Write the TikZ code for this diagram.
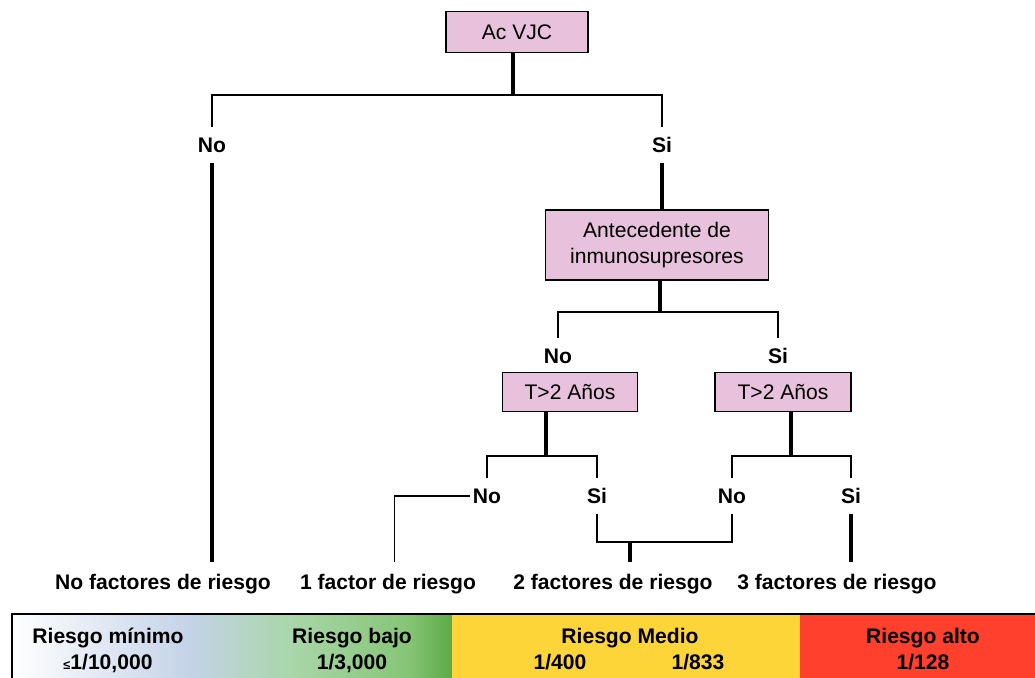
\documentclass[tikz,border=0pt]{standalone}
\usepackage{fontspec}
\setmainfont{Liberation Sans}
\usepackage{tikz}
\usetikzlibrary{positioning}

\definecolor{boxpink}{RGB}{232,193,221}
\definecolor{riskblue}{RGB}{197,211,232}
\definecolor{riskpale}{RGB}{168,214,168}
\definecolor{risklight}{RGB}{134,197,118}
\definecolor{riskgreen}{RGB}{91,170,69}
\definecolor{riskyellow}{RGB}{253,213,56}
\definecolor{riskred}{RGB}{255,64,45}

\pgfdeclarehorizontalshading{lowrisk}{100bp}{color(0bp)=(white); color(25bp)=(white); color(45bp)=(riskblue); color(57bp)=(riskpale); color(70bp)=(risklight); color(75bp)=(riskgreen); color(100bp)=(riskgreen)}

\begin{document}
\begin{tikzpicture}[x=0.025cm,y=-0.025cm]
     % Define styles
     \tikzstyle{qbox} = [draw, line width=1.1pt, fill=boxpink, align=center, inner sep=2pt, font=\fontsize{15}{18}\selectfont]
     \tikzstyle{answer} = [font=\bfseries\fontsize{15}{18}\selectfont, text height=11pt, text depth=0pt, inner xsep=2pt, inner ysep=7pt]
     \tikzstyle{outcome} = [font=\bfseries\fontsize{15}{18}\selectfont, anchor=base, text height=11pt, inner ysep=8pt]
     \tikzstyle{risk} = [font=\bfseries\fontsize{15}{18}\selectfont, anchor=base, inner sep=0pt]
     \tikzstyle{branch} = [line width=1.2pt]
     \tikzstyle{trunk} = [line width=2.3pt]

     \useasboundingbox (0,0) rectangle (1035,678);

     % Question boxes
     \node[qbox, minimum width=3.55cm, minimum height=1.025cm] (acvjc) at (517,32) {Ac VJC};
     \node[qbox, minimum width=5.575cm, minimum height=1.75cm] (immuno) at (657,245) {Antecedente de\\inmunosupresores};
     \node[qbox, minimum width=3.375cm, minimum height=0.975cm] (tleft) at (570,392) {T>2 Años};
     \node[qbox, minimum width=3.4cm, minimum height=0.975cm] (tright) at (783,392) {T>2 Años};

     % Answers
     \node[answer] (no1) at (212,145) {No};
     \node[answer] (si1) at (662,145) {Si};
     \node[answer] (no2) at (558,356) {No};
     \node[answer] (si2) at (778,356) {Si};
     \node[answer] (no3) at (487,496) {No};
     \node[answer] (si3) at (597,496) {Si};
     \node[answer] (no4) at (732,496) {No};
     \node[answer] (si4) at (851,496) {Si};

     % Outcomes
     \node[outcome] (nofr) at (163,589) {No factores de riesgo};
     \node[outcome] (onefr) at (388,589) {1 factor de riesgo};
     \node[outcome] (twofr) at (613,589) {2 factores de riesgo};
     \node[outcome] (threefr) at (837,589) {3 factores de riesgo};

     % Split points
     \coordinate (acsplit) at (513,95);
     \coordinate (immsplit) at (660,312);
     \coordinate (tlsplit) at (546,456);
     \coordinate (trsplit) at (791,456);
     \coordinate (merge) at (630,542);

     % Ac VJC
     \draw[trunk] (acsplit |- acvjc.south) -- (acsplit);
     \draw[branch] (no1.north) |- (acsplit) -| (si1.north);
     \draw[trunk] (no1.south) -- (no1.south |- nofr.north);
     \draw[trunk] (si1.south) -- (si1.south |- immuno.north);

     % Inmunosupresores
     \draw[trunk] (immsplit |- immuno.south) -- (immsplit);
     \draw[branch] (no2.north) |- (immsplit) -| (si2.north);

     % T>2 anos
     \draw[trunk] (tlsplit |- tleft.south) -- (tlsplit);
     \draw[branch] (no3.north) |- (tlsplit) -| (si3.north);
     \draw[trunk] (trsplit |- tright.south) -- (trsplit);
     \draw[branch] (no4.north) |- (trsplit) -| (si4.north);

     % To the outcomes
     \draw[branch] (no3.west) -| ([xshift=0.16cm]onefr.north);
     \draw[branch] (si3.south) |- (merge) -| (no4.south);
     \draw[trunk] (merge) -- (merge |- twofr.north);
     \draw[trunk] (si4.south) -- (si4.south |- threefr.north);

     % Risk bar
     \shade[shading=lowrisk] (12,614) rectangle (452,678);
     \fill[riskyellow] (452,614) rectangle (800,678);
     \fill[riskred] (800,614) rectangle (1035,678);
     \draw[line width=1.6pt] (12,678) -- (12,614) -- (1035,614);

     \node[risk] (minimo) at (108,643) {Riesgo mínimo};
     \node[risk] (minimov) at (108,669) {{\small ≤}1/10,000};
     \node[risk] (bajo) at (352,643) {Riesgo bajo};
     \node[risk] (bajov) at (352,669) {1/3,000};
     \node[risk] (medio) at (630,643) {Riesgo Medio};
     \node[risk] (mediova) at (560,669) {1/400};
     \node[risk] (mediovb) at (698,669) {1/833};
     \node[risk] (alto) at (923,643) {Riesgo alto};
     \node[risk] (altov) at (923,669) {1/128};
\end{tikzpicture}
\end{document}
